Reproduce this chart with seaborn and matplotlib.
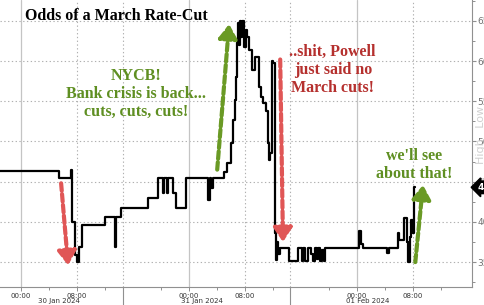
import numpy as np
import pandas as pd
import matplotlib
matplotlib.use("Agg")
import matplotlib.pyplot as plt
import matplotlib.transforms as mtransforms
import seaborn as sns

# ---- data: hours since 30 Jan 2024 00:00, odds of a March cut (%) ----
hours = [-3.0, 5.5, 7.2, 7.4, 7.8, 8.1, 8.4, 8.8, 12.1, 13.5, 13.7, 14.3, 18.2,
         19.7, 20.4, 20.5, 20.9, 21.1, 21.8, 22.2, 23.6, 26.8, 27.0, 27.2, 27.5,
         29.0, 29.5, 30.0, 30.3, 30.6, 30.8, 30.9, 31.0, 31.2, 31.3, 31.5, 31.7,
         31.9, 32.2, 32.4, 32.7, 33.0, 33.5, 34.1, 34.4, 34.7, 35.0, 35.3, 35.5,
         35.7, 35.9, 36.1, 36.3, 36.5, 36.6, 36.8, 37.0, 38.3, 39.7, 40.2, 40.4,
         40.7, 41.0, 41.5, 41.8, 42.0, 42.3, 42.5, 42.8, 43.0, 43.3, 43.5, 43.9,
         48.3, 48.6, 48.9, 52.4, 52.6, 53.9, 54.1, 54.8, 55.2, 55.4, 55.6, 55.8,
         56.0, 56.2, 56.3]
odds = [46.3, 45.4, 46.5, 40.0, 35.9, 35.0, 36.9, 39.6, 40.6, 36.9, 40.6, 41.7, 43.0,
        45.5, 43.6, 45.5, 43.6, 45.5, 43.6, 41.7, 45.5, 42.7, 45.5, 44.2, 45.5,
        46.2, 47.3, 49.8, 52.7, 55.2, 58.0, 62.3, 64.8, 62.0, 65.0, 63.0, 65.0,
        61.8, 63.9, 63.0, 61.4, 58.9, 60.5, 56.8, 55.5, 54.8, 53.8, 49.8, 47.7,
        48.6, 60.0, 59.8, 38.6, 35.2, 37.5, 36.0, 36.8, 35.1, 36.8, 35.1, 36.8,
        35.1, 36.8, 36.0, 35.1, 36.8, 35.4, 36.8, 35.1, 36.5, 35.1, 36.8, 36.8,
        38.9, 37.3, 36.8, 36.1, 36.8, 38.6, 37.7, 40.5, 37.5, 35.0, 38.1, 40.2,
        38.6, 44.3, 44.3]

y_ticks = [35, 40, 45, 50, 55, 60, 65]
y_minor = [32.5, 37.5, 42.5, 47.5, 52.5, 57.5, 62.5, 67.5]
major_hours = [0, 8, 24, 32, 48, 56]
major_labels = ["00:00", "08:00", "00:00", "08:00", "00:00", "08:00"]
minor_hours = [4, 12, 20, 28, 36, 44, 52, 60]
date_hours = [5.5, 25.9, 49.6]
date_labels = ["30 Jan 2024", "31 Jan 2024", "01 Feb 2024"]
separator_hours = [14.64, 38.5]

df = pd.DataFrame({"hours": hours, "odds": odds})

sns.set_theme(style="white")
serif = ["Liberation Serif", "DejaVu Serif"]

fig = plt.figure(figsize=(4.85, 3.05), dpi=100)
ax = fig.add_axes([0.0, 1 - 287 / 305, 472 / 485, 287 / 305])
ax.set_facecolor("white")

# grid
for yv in y_ticks:
    ax.axhline(yv, color="#b0b0b0", lw=0.8, ls=(0, (1.2, 2.2)), zorder=0)
for h in [0, 24, 48]:
    ax.axvline(h, color="#c4c4c4", lw=0.9, zorder=0)
for h in [8, 32, 56] + separator_hours:
    ax.axvline(h, color="#b0b0b0", lw=0.8, ls=(0, (1.2, 2.2)), zorder=0)

sns.lineplot(data=df, x="hours", y="odds", ax=ax, color="black", lw=1.6,
             drawstyle="steps-post", estimator=None, sort=False, zorder=3)

ax.set_xlim(-2.93, 64.5)
ax.set_ylim(31.9, 67.6)
ax.set_xlabel("")
ax.set_ylabel("")

for s in ["left", "top"]:
    ax.spines[s].set_visible(False)
for s in ["right", "bottom"]:
    ax.spines[s].set_visible(True)
    ax.spines[s].set_color("#909090")
    ax.spines[s].set_linewidth(0.8)

ax.yaxis.tick_right()
ax.set_yticks(y_ticks)
ax.set_yticklabels([str(v) for v in y_ticks])
ax.set_yticks(y_minor, minor=True)
ax.tick_params(axis="y", which="major", right=True, left=False, length=3, width=0.8,
               color="#909090", labelsize=6.5, labelcolor="#707070", pad=1)
ax.tick_params(axis="y", which="minor", right=True, left=False, length=2.5, width=0.7,
               color="#909090")

ax.set_xticks(major_hours)
ax.set_xticklabels(major_labels)
ax.set_xticks(minor_hours, minor=True)
ax.tick_params(axis="x", which="major", bottom=True, length=3, width=0.7,
               color="#909090", labelsize=5, labelcolor="#333333", pad=1.5)
ax.tick_params(axis="x", which="minor", bottom=True, length=2.5, width=0.7,
               color="#909090")

trans = mtransforms.blended_transform_factory(ax.transData, fig.transFigure)
for h, lab in zip(date_hours, date_labels):
    ax.text(h, 4 / 305, lab, transform=trans, ha="center", va="center",
            fontsize=5, color="#333333")
for h in separator_hours:
    ax.plot([h, h], [0, 18 / 305], transform=trans, color="#909090", lw=0.8,
            clip_on=False)

# faint legend text and last value badge (both cut by the right edge, as in the source)
fig.text(481 / 485, 1 - 135 / 305, "High   Low", rotation=90, ha="center",
         va="center", fontsize=8, color="#d0d0d0")
ytrans = mtransforms.blended_transform_factory(fig.transFigure, ax.transData)
ax.text(478 / 485, odds[-1], "44.3", transform=ytrans, ha="left", va="center",
        fontsize=6.5, color="white", fontweight="bold",
        bbox=dict(boxstyle="larrow,pad=0.2", fc="black", ec="black"), zorder=6)

# title
fig.text(25 / 485, 1 - 16 / 305, "Odds of a March Rate-Cut", fontsize=11.5,
         fontweight="bold", family=serif, color="black", ha="left", va="center")

green = "#5f8f22"
red_txt = "#b5302e"
notes = [(16.5, 94, "NYCB!\nBank crisis is back...\ncuts, cuts, cuts!", green),
         (44.6, 70, "..shit, Powell\njust said no\nMarch cuts!", red_txt),
         (56.2, 165, "we'll see\nabout that!", green)]
for h, ypx, txt, c in notes:
    ax.text(h, 1 - ypx / 305, txt, transform=trans, ha="center", va="center",
            fontsize=11.5, color=c, family=serif, fontweight="bold",
            linespacing=1.15, zorder=6)

# dashed arrows
arrow_red = "#e05656"
arrow_green = "#6a9a25"
arrows = [((5.8, 44.8), (6.8, 34.6), arrow_red),
          ((28.1, 46.5), (29.8, 64.6), arrow_green),
          ((37.1, 60.2), (37.5, 37.5), arrow_red),
          ((56.4, 35.0), (57.5, 44.6), arrow_green)]
for start, tip, c in arrows:
    ax.annotate("", xy=tip, xytext=start,
                arrowprops=dict(arrowstyle="-|>,head_length=0.6,head_width=0.4",
                                lw=3.0, ls=(0, (1.8, 0.8)), color=c,
                                shrinkA=0, shrinkB=0, mutation_scale=14),
                zorder=5)

fig.savefig("out.png", dpi=100)
